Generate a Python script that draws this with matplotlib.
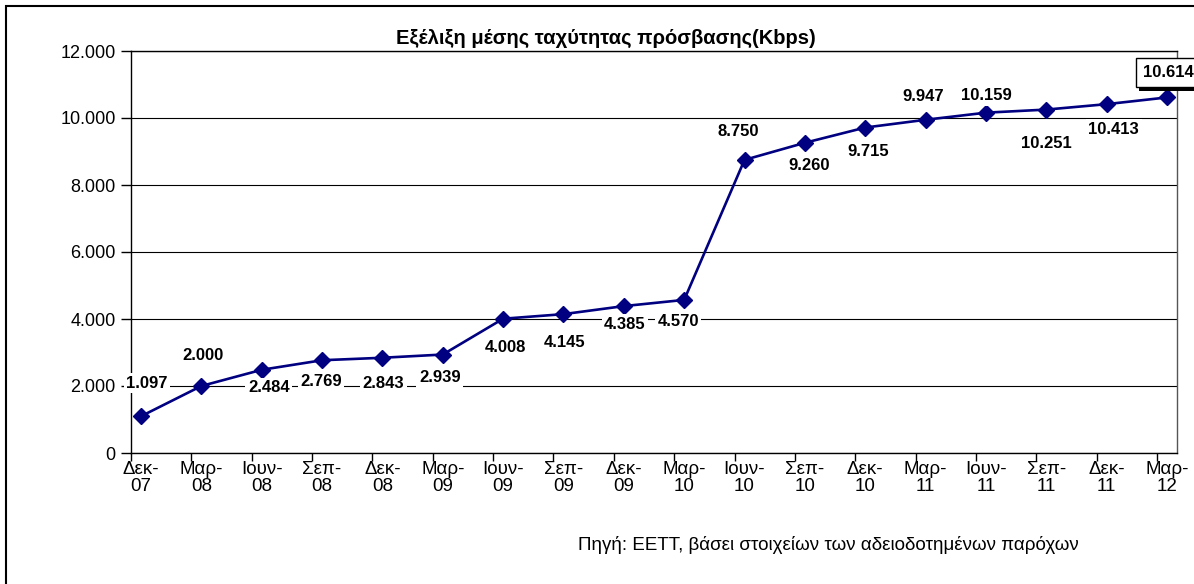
import numpy as np
import matplotlib
matplotlib.use('Agg')
import matplotlib.pyplot as plt
from matplotlib.patches import Rectangle
import matplotlib.patheffects as pe

plt.rcParams['font.family'] = ['Liberation Sans', 'DejaVu Sans']

# quarters (Greek month abbreviation - year)
months = ['Δεκ', 'Μαρ', 'Ιουν', 'Σεπ', 'Δεκ', 'Μαρ', 'Ιουν', 'Σεπ', 'Δεκ',
          'Μαρ', 'Ιουν', 'Σεπ', 'Δεκ', 'Μαρ', 'Ιουν', 'Σεπ', 'Δεκ', 'Μαρ']
years = ['07', '08', '08', '08', '08', '09', '09', '09', '09',
         '10', '10', '10', '10', '11', '11', '11', '11', '12']
speed = [1097, 2000, 2484, 2769, 2843, 2939, 4008, 4145, 4385,
         4570, 8750, 9260, 9715, 9947, 10159, 10251, 10413, 10614]

# where Excel placed each data label (pixels from the point)
label_offsets = [(6, 33), (2, 30), (7, -18), (-1, -21), (1, -26), (-3, -23),
                 (2, -29), (1, -28), (1, -18), (-6, -22), (-6, 28), (4, -23),
                 (3, -24), (-2, 23), (0, 17), (0, -34), (7, -25), (1, 25)]


def gr_fmt(v):
    return '{:,}'.format(int(v)).replace(',', '.')


W, H = 1194, 584
fig = plt.figure(figsize=(W / 100, H / 100), dpi=100)
fig.patches.append(Rectangle((6 / W, -0.1), 1.2, (H - 6) / H + 0.1, transform=fig.transFigure,
                             fill=False, edgecolor='black', lw=1.5))

ax = fig.add_axes([131 / W, (H - 453) / H, (1177 - 131) / W, (453 - 51) / H])
x = np.arange(len(speed))

ax.plot(x, speed, color='#000080', lw=1.9, marker='D', markersize=8, zorder=4)

for i, v in enumerate(speed):
    dx, dy = label_offsets[i]
    t = ax.annotate(gr_fmt(v), (x[i], v), xytext=(dx, dy), textcoords='offset pixels',
                    ha='center', va='center', fontsize=12, fontweight='bold', zorder=5,
                    bbox=dict(boxstyle='square,pad=0.15', fc='white', ec='none'))
    if i == len(speed) - 1:
        t.set_bbox(dict(boxstyle='square,pad=0.4', fc='white', ec='black', lw=1))
        t.get_bbox_patch().set_path_effects([pe.SimplePatchShadow(offset=(2, -3), shadow_rgbFace='black', alpha=1),
                                             pe.Normal()])

ax.set_xlim(-0.166, 17.166)
ax.set_ylim(0, 12000)
ax.set_yticks(np.arange(0, 12001, 2000))
ax.set_yticklabels([gr_fmt(v) for v in np.arange(0, 12001, 2000)], fontsize=13)
ax.yaxis.grid(True, color='black', lw=0.8)
ax.set_axisbelow(True)

ax.set_xticks(x)
ax.set_xticklabels([m + '-\n' + y for m, y in zip(months, years)], fontsize=13.5, linespacing=1.0)
ax.set_xticks(x - 0.166, minor=True)
ax.tick_params(axis='x', which='major', length=0, pad=6)
ax.tick_params(axis='x', which='minor', length=6, width=1, direction='out')
ax.tick_params(axis='y', length=7, width=1, direction='out', pad=4)

for s in ax.spines.values():
    s.set_color('black')
    s.set_linewidth(1)
ax.spines['right'].set_color('#555555')

fig.text(606 / W, (H - 38) / H, 'Εξέλιξη μέσης ταχύτητας πρόσβασης(Kbps)', ha='center', va='center',
         fontsize=14.5, fontweight='bold')
fig.text(828 / W, (H - 545) / H, 'Πηγή: ΕΕΤΤ, βάσει στοιχείων των αδειοδοτημένων παρόχων', ha='center',
         va='center', fontsize=13.5)

fig.savefig('out.png', dpi=100)
